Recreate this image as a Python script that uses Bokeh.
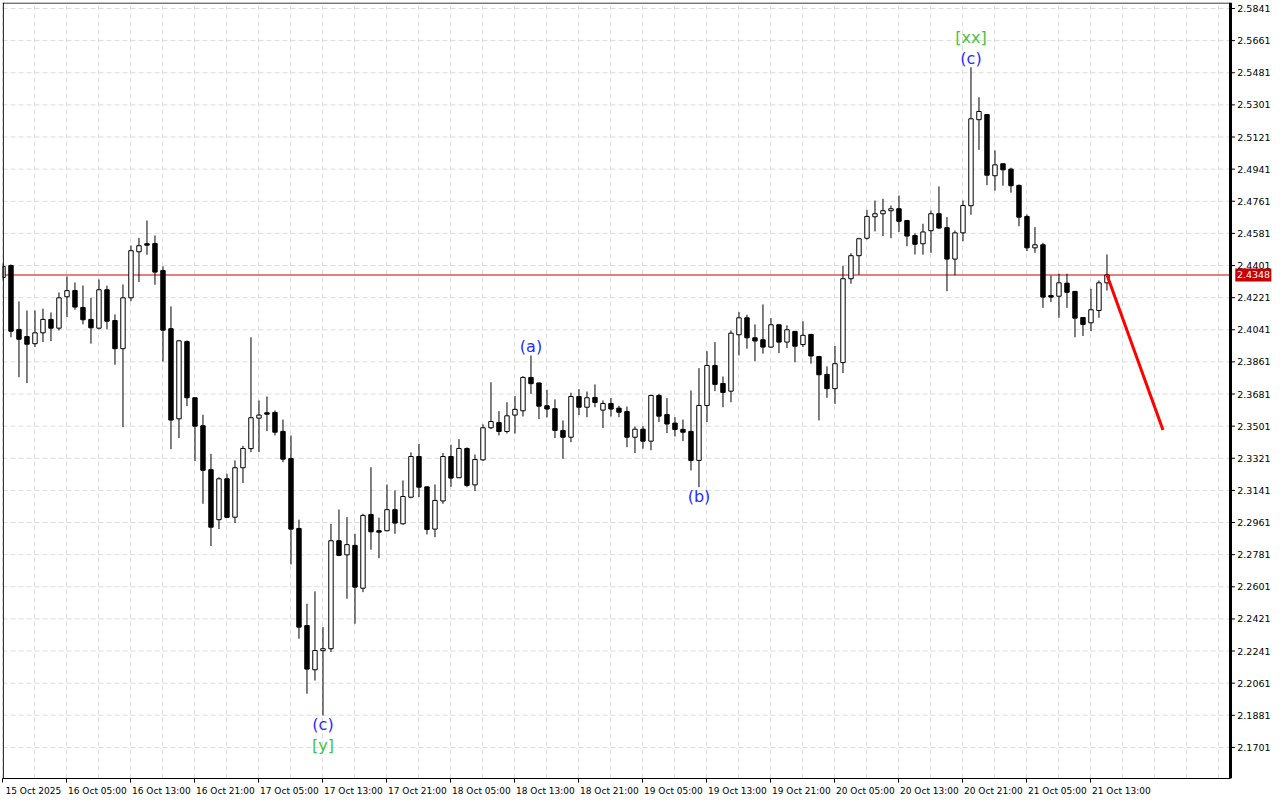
import numpy as np
from bokeh.plotting import figure
from bokeh.models import (Range1d, LinearAxis, FixedTicker, Grid, Span, ColumnDataSource)
from bokeh.core.properties import value
from bokeh.embed import file_html
from bokeh.resources import INLINE

# ---------------- data (H1 bars from 15 Oct 2025 21:00) ----------------
opens = [2.4334, 2.4401, 2.4043, 2.4003, 2.3963, 2.4024, 2.4099, 2.4050, 2.4226, 2.4261,
         2.4166, 2.4099, 2.4050, 2.4265, 2.4093, 2.3935, 2.4220, 2.4478, 2.4523, 2.4524,
         2.4373, 2.4047, 2.3542, 2.3975, 2.3660, 2.3503, 2.3257, 2.2977, 2.3206, 2.2991,
         2.3268, 2.3375, 2.3546, 2.3576, 2.3578, 2.3472, 2.3320, 2.2928, 2.2384, 2.2136,
         2.2243, 2.2254, 2.2859, 2.2780, 2.2833, 2.2593, 2.3006, 2.2915, 2.2915, 2.3033,
         2.2954, 2.3103, 2.3331, 2.3161, 2.2924, 2.3082, 2.3331, 2.3212, 2.3376, 2.3172,
         2.3312, 2.3492, 2.3521, 2.3471, 2.3563, 2.3587, 2.3774, 2.3743, 2.3615, 2.3599,
         2.3477, 2.3439, 2.3667, 2.3607, 2.3662, 2.3591, 2.3628, 2.3602, 2.3583, 2.3439,
         2.3484, 2.3417, 2.3673, 2.3566, 2.3518, 2.3483, 2.3472, 2.3309, 2.3617, 2.3841,
         2.3740, 2.3697, 2.4013, 2.4108, 2.3996, 2.3985, 2.3944, 2.4069, 2.3972, 2.4032,
         2.3958, 2.4015, 2.3891, 2.3791, 2.3711, 2.3857, 2.4327, 2.4456, 2.4554, 2.4674,
         2.4691, 2.4708, 2.4719, 2.4653, 2.4569, 2.4523, 2.4596, 2.4691, 2.4613, 2.4437,
         2.4584, 2.4736, 2.5218, 2.5247, 2.4904, 2.4971, 2.4941, 2.4850, 2.4676, 2.4500,
         2.4517, 2.4233, 2.4229, 2.4302, 2.4256, 2.4110, 2.4080, 2.4149, 2.4304]
highs = [2.4413, 2.4407, 2.4200, 2.4149, 2.4149, 2.4159, 2.4138, 2.4250, 2.4340, 2.4306,
         2.4289, 2.4220, 2.4323, 2.4288, 2.4127, 2.4295, 2.4513, 2.4556, 2.4653, 2.4569,
         2.4396, 2.4172, 2.3982, 2.3981, 2.3663, 2.3565, 2.3346, 2.3215, 2.3234, 2.3309,
         2.3391, 2.3999, 2.3645, 2.3667, 2.3589, 2.3538, 2.3449, 2.2977, 2.2506, 2.2575,
         2.2375, 2.2954, 2.3034, 2.2991, 2.2898, 2.3010, 2.3271, 2.2988, 2.3174, 2.3141,
         2.3197, 2.3354, 2.3402, 2.3163, 2.3174, 2.3350, 2.3397, 2.3428, 2.3382, 2.3342,
         2.3511, 2.3747, 2.3585, 2.3635, 2.3669, 2.3781, 2.3897, 2.3743, 2.3705, 2.3651,
         2.3533, 2.3688, 2.3708, 2.3695, 2.3735, 2.3645, 2.3658, 2.3615, 2.3611, 2.3499,
         2.3501, 2.3677, 2.3682, 2.3658, 2.3551, 2.3538, 2.3701, 2.3826, 2.3921, 2.3972,
         2.3779, 2.4037, 2.4140, 2.4125, 2.4071, 2.4183, 2.4106, 2.4071, 2.4066, 2.4034,
         2.4088, 2.4018, 2.3894, 2.3836, 2.3950, 2.4399, 2.4470, 2.4556, 2.4713, 2.4765,
         2.4775, 2.4737, 2.4793, 2.4653, 2.4582, 2.4635, 2.4709, 2.4844, 2.4672, 2.4597,
         2.4765, 2.5512, 2.5344, 2.5250, 2.5046, 2.4973, 2.4949, 2.4855, 2.4687, 2.4616,
         2.4528, 2.4345, 2.4355, 2.4355, 2.4258, 2.4112, 2.4271, 2.4317, 2.4463]
lows = [2.4317, 2.3999, 2.3775, 2.3742, 2.3944, 2.3972, 2.3977, 2.4037, 2.4112, 2.4153,
        2.4072, 2.3963, 2.4043, 2.4044, 2.3845, 2.3495, 2.4201, 2.4308, 2.4461, 2.4293,
        2.3863, 2.3372, 2.3434, 2.3613, 2.3305, 2.3066, 2.2829, 2.2924, 2.2986, 2.2958,
        2.3182, 2.3355, 2.3355, 2.3473, 2.3449, 2.3299, 2.2726, 2.2310, 2.2002, 2.2076,
        2.1880, 2.2235, 2.2773, 2.2534, 2.2394, 2.2571, 2.2809, 2.2761, 2.2911, 2.2898,
        2.2949, 2.3097, 2.3104, 2.2894, 2.2879, 2.3066, 2.3161, 2.3210, 2.3159, 2.3137,
        2.3306, 2.3484, 2.3449, 2.3460, 2.3460, 2.3555, 2.3682, 2.3540, 2.3550, 2.3434,
        2.3318, 2.3411, 2.3563, 2.3551, 2.3607, 2.3490, 2.3555, 2.3551, 2.3383, 2.3350,
        2.3375, 2.3366, 2.3524, 2.3462, 2.3443, 2.3417, 2.3253, 2.3159, 2.3524, 2.3697,
        2.3607, 2.3635, 2.3897, 2.3935, 2.3865, 2.3907, 2.3939, 2.3910, 2.3939, 2.3859,
        2.3944, 2.3851, 2.3533, 2.3660, 2.3626, 2.3798, 2.4299, 2.4349, 2.4546, 2.4592,
        2.4566, 2.4554, 2.4589, 2.4509, 2.4463, 2.4462, 2.4472, 2.4605, 2.4257, 2.4347,
        2.4537, 2.4685, 2.5049, 2.4851, 2.4821, 2.4848, 2.4809, 2.4621, 2.4481, 2.4472,
        2.4164, 2.4196, 2.4108, 2.4164, 2.3999, 2.4006, 2.4033, 2.4108, 2.4261]
closes = [2.4396, 2.4033, 2.3988, 2.3960, 2.4024, 2.4099, 2.4050, 2.4220, 2.4260, 2.4168,
          2.4097, 2.4052, 2.4265, 2.4089, 2.3935, 2.4220, 2.4484, 2.4512, 2.4515, 2.4364,
          2.4039, 2.3535, 2.3979, 2.3660, 2.3501, 2.3254, 2.2935, 2.3206, 2.2990, 2.3268,
          2.3376, 2.3548, 2.3563, 2.3568, 2.3467, 2.3316, 2.2924, 2.2375, 2.2140, 2.2244,
          2.2254, 2.2859, 2.2777, 2.2837, 2.2599, 2.3001, 2.2909, 2.2907, 2.3033, 2.2958,
          2.3107, 2.3331, 2.3159, 2.2922, 2.3085, 2.3331, 2.3210, 2.3376, 2.3169, 2.3314,
          2.3492, 2.3527, 2.3471, 2.3559, 2.3595, 2.3774, 2.3739, 2.3613, 2.3597, 2.3477,
          2.3439, 2.3667, 2.3607, 2.3660, 2.3634, 2.3628, 2.3597, 2.3579, 2.3439, 2.3484,
          2.3417, 2.3673, 2.3557, 2.3513, 2.3482, 2.3467, 2.3309, 2.3617, 2.3841, 2.3735,
          2.3690, 2.4022, 2.4108, 2.3996, 2.3978, 2.3944, 2.4069, 2.3972, 2.4041, 2.3949,
          2.4010, 2.3894, 2.3789, 2.3711, 2.3851, 2.4327, 2.4456, 2.4551, 2.4676, 2.4691,
          2.4708, 2.4719, 2.4649, 2.4566, 2.4520, 2.4589, 2.4691, 2.4611, 2.4437, 2.4584,
          2.4737, 2.5223, 2.5264, 2.4907, 2.4965, 2.4937, 2.4848, 2.4672, 2.4500, 2.4517,
          2.4224, 2.4224, 2.4304, 2.4251, 2.4106, 2.4071, 2.4153, 2.4304, 2.4348]

x_tick_bars = [0, 8, 16, 24, 32, 40, 48, 56, 64, 72, 80, 88, 96, 104, 112, 120, 128, 136]
x_tick_labels = ["15 Oct 2025", "16 Oct 05:00", "16 Oct 13:00", "16 Oct 21:00",
                 "17 Oct 05:00", "17 Oct 13:00", "17 Oct 21:00", "18 Oct 05:00",
                 "18 Oct 13:00", "18 Oct 21:00", "19 Oct 05:00", "19 Oct 13:00",
                 "19 Oct 21:00", "20 Oct 05:00", "20 Oct 13:00", "20 Oct 21:00",
                 "21 Oct 05:00", "21 Oct 13:00"]
y_ticks = [2.5841, 2.5661, 2.5481, 2.5301, 2.5121, 2.4941, 2.4761, 2.4581, 2.4401,
           2.4221, 2.4041, 2.3861, 2.3681, 2.3501, 2.3321, 2.3141, 2.2961, 2.2781,
           2.2601, 2.2421, 2.2241, 2.2061, 2.1881, 2.1701]

# wave labelling
wave_labels = ["(a)", "(b)", "(c)", "[y]", "(c)", "[xx]"]
wave_bars = [66, 87, 40, 40, 121, 121]
wave_anchor = ["high", "low", "low", "low", "high", "high"]

# forecast arrow
forecast_bars = [138, 145]
forecast_prices = [2.4348, 2.3480]

# ---------------- styling ----------------
FONT = "DejaVu Sans"
BLUE = "#2a2aff"
GREEN = "#45c445"
GRID = "#dcdcdc"
wave_colors = [BLUE, BLUE, BLUE, GREEN, BLUE, GREEN]
wave_offsets = [-9, 9, 9, 30, -9, -30]

X0 = -0.06          # left frame edge (bar units, 8 px per bar)
X1 = 153.44         # price-scale edge
XEND = 159.44       # right edge of the canvas area
Y0, Y1 = 2.15269, 2.58746
LBL_SHIFT = 3.8
TAG_W = 4.5

o = np.array(opens); h = np.array(highs); l = np.array(lows); c = np.array(closes)
idx = np.arange(len(o))
up = c >= o
last = closes[-1]

p = figure(width=1280, height=800, x_range=Range1d(X0, XEND), y_range=Range1d(Y0, Y1),
           x_axis_type=None, y_axis_type=None, output_backend="svg",
           toolbar_location=None, min_border_left=2, min_border_right=2,
           min_border_top=2, min_border_bottom=22,
           background_fill_color="white", border_fill_color="white")
p.outline_line_color = None
p.extra_x_ranges = {"lbl": Range1d(X0 - LBL_SHIFT, XEND - LBL_SHIFT)}

# grids (vertical every 4 bars, horizontal at price ticks, stopping at the price scale)
p.add_layout(Grid(dimension=0, ticker=FixedTicker(ticks=list(range(0, 154, 4))),
                  grid_line_color=GRID, grid_line_dash="5 3", grid_line_width=1))
p.segment(x0=[X0] * len(y_ticks), x1=[X1] * len(y_ticks), y0=y_ticks, y1=y_ticks,
          line_color=GRID, line_dash="5 3", line_width=1)

# frame borders (left, top) and thick price-scale line
p.add_layout(Span(location=X0 + 0.1, dimension="height", line_color="black", line_width=1))
p.segment(x0=[X0], x1=[X1], y0=[Y1 - 0.0003], y1=[Y1 - 0.0003],
          line_color="black", line_width=1)
p.add_layout(Span(location=X1, dimension="height", line_color="black", line_width=3))

# current price line
p.segment(x0=[X0], x1=[X1], y0=[last], y1=[last], line_color="#d00000", line_width=1.2)

# candles
src = ColumnDataSource(dict(x=idx, high=h, low=l,
                            top=np.maximum(o, c), bottom=np.minimum(o, c),
                            fill=np.where(up, "white", "black")))
p.segment(x0="x", y0="low", x1="x", y1="high", source=src,
          line_color="black", line_width=1)
p.vbar(x="x", width=0.55, top="top", bottom="bottom", source=src,
       fill_color="fill", line_color="black", line_width=1)

# forecast line
p.line(forecast_bars, forecast_prices, line_color="#ff0000", line_width=3)

# wave labels
wy = [h[b] if a == "high" else l[b] for b, a in zip(wave_bars, wave_anchor)]
wsrc = ColumnDataSource(dict(x=wave_bars, y=wy, text=wave_labels, color=wave_colors,
                             yo=wave_offsets))
p.text(x="x", y="y", text="text", text_color="color", y_offset="yo", source=wsrc,
       text_font=value(FONT), text_font_size="16px", text_align="center",
       text_baseline="middle")

# price scale: tick marks and labels
p.segment(x0=[X1] * len(y_ticks), x1=[X1 + 0.55] * len(y_ticks), y0=y_ticks, y1=y_ticks,
          line_color="black", line_width=1)
p.text(x=[X1 + 0.85] * len(y_ticks), y=y_ticks, text=[f"{t:.4f}" for t in y_ticks],
       text_font=value(FONT), text_font_size="9.5px", text_color="black",
       text_align="left", text_baseline="middle")

# current price tag
p.rect(x=[X1 + 0.6 + TAG_W / 2], y=[last], width=TAG_W, height=13, height_units="screen",
       fill_color="#c80000", line_color=None)
p.text(x=[X1 + 0.8], y=[last], text=[f"{last:.4f}"], text_font=value(FONT),
       text_font_size="9.5px", text_color="white", text_align="left",
       text_baseline="middle")

# bottom time axis: labels left-aligned after the tick (shifted range),
# tick marks drawn as minor ticks at the bar positions
xax = LinearAxis(x_range_name="lbl", bounds=(X0 - LBL_SHIFT, X1 - LBL_SHIFT),
                 ticker=FixedTicker(ticks=x_tick_bars,
                                    minor_ticks=[b - LBL_SHIFT for b in x_tick_bars]),
                 major_label_overrides={b: t for b, t in zip(x_tick_bars, x_tick_labels)},
                 major_tick_out=0, major_tick_in=0, major_tick_line_color=None,
                 minor_tick_out=4, minor_tick_in=0, minor_tick_line_color="black",
                 axis_line_color="black",
                 major_label_standoff=3, major_label_text_font=FONT,
                 major_label_text_font_size="9px", major_label_text_color="black")
p.add_layout(xax, "below")

open("out.html", "w").write(file_html(p, INLINE))
